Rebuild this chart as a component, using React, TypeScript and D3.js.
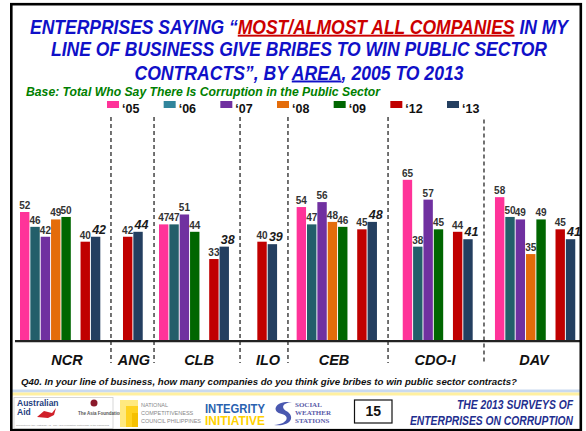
import React from 'react'
import * as d3 from 'd3'

// areas on the x axis
const areas = ['NCR', 'ANG', 'CLB', 'ILO', 'CEB', 'CDO-I', 'DAV']
const years = ['‘05', '‘06', '‘07', '‘08', '‘09', '‘12', '‘13']

// values per survey year, one entry per area (null = not surveyed)
const v05 = [52, null, 47, null, 54, 65, 58]
const v06 = [46, null, 47, null, 47, 38, 50]
const v07 = [42, null, 51, null, 56, 57, 49]
const v08 = [49, null, null, null, 48, null, 35]
const v09 = [50, null, 44, null, 46, 45, 49]
const v12 = [40, 42, 33, 40, 45, 44, 45]
const v13 = [42, 44, 38, 39, 48, 41, 41]
const series = [v05, v06, v07, v08, v09, v12, v13]

const barColors = ['#FF3399', '#235E6A', '#7030A0', '#E46C0A', '#006600', '#C00000', '#243F60']
const legendColors = ['#FF3399', '#31859C', '#7030A0', '#E46C0A', '#006600', '#C00000', '#243F60']

// layout in "slot" units (one slot = one bar pitch)
const groupStart = [0, 9.95, 13.43, 22.93, 26.73, 36.98, 45.89]
const labelCenter = [4.54, 11.01, 17.3, 23.96, 30.34, 40.1, 49.66]
const separators = [8.79, 12.95, 21.26, 25.89, 35.56, 44.83]
const GAP = 0.85 // extra space between '09 and '12

const W = 586
const H = 431

export default function App() {
  const x = d3.scaleLinear().domain([0, 53]).range([20, 20 + 53 * 10.35])
  const y = d3.scaleLinear().domain([0, 70]).range([340.7, 340.7 - 70 * 2.475])
  const barW = 9.4

  const bars: { key: string; s: number; v: number; x0: number }[] = []
  areas.forEach((area, ai) => {
    let slot = groupStart[ai]
    let placedEarly = false
    series.forEach((vals, si) => {
      const v = vals[ai]
      if (v == null) return
      if (si === 5 && placedEarly) slot += GAP
      if (si < 5) placedEarly = true
      bars.push({ key: `${area}-${si}`, s: si, v, x0: x(slot) })
      slot += 1
    })
  })

  const legendX = d3.scaleLinear().domain([0, 6]).range([107, 447])

  const bold = 'bold'
  const arial = 'Liberation Sans, Arial, sans-serif'
  const narrow = 'Liberation Sans Narrow, Liberation Sans, Arial, sans-serif'

  return (
    <svg width={W} height={H} style={{ position: 'absolute', left: 0, top: 0, background: '#fff' }}>
      {/* title */}
      <g fontFamily={arial} fontWeight={bold} fontStyle="italic" fontSize={19.5} fill="#1010C8" textAnchor="middle">
        <text x={299} y={33.7} textLength={538} lengthAdjust="spacingAndGlyphs">
          <tspan>ENTERPRISES SAYING “</tspan>
          <tspan fill="#CC0000" style={{ textDecoration: 'underline' }}>MOST/ALMOST ALL COMPANIES</tspan>
          <tspan> IN MY</tspan>
        </text>
        <text x={299} y={56.2} textLength={496} lengthAdjust="spacingAndGlyphs">
          LINE OF BUSINESS GIVE BRIBES TO WIN PUBLIC SECTOR
        </text>
        <text x={299} y={79.5} textLength={329} lengthAdjust="spacingAndGlyphs">
          <tspan>CONTRACTS”, BY </tspan>
          <tspan style={{ textDecoration: 'underline' }}>AREA</tspan>
          <tspan>, 2005 TO 2013</tspan>
        </text>
      </g>
      <text x={26} y={95.5} fontFamily={narrow} fontWeight={bold} fontStyle="italic" fontSize={12.5}
        fill="#008000" textLength={354} lengthAdjust="spacingAndGlyphs">
        Base: Total Who Say There Is Corruption in the Public Sector
      </text>

      {/* legend */}
      {years.map((yr, i) => (
        <g key={yr}>
          <rect x={legendX(i)} y={101} width={12} height={7} fill={legendColors[i]} />
          <text x={legendX(i) + 15} y={113} fontFamily={arial} fontWeight={bold} fontSize={12.5} fill="#111">
            {yr}
          </text>
        </g>
      ))}

      {/* separators */}
      {separators.map((s, i) => (
        <line key={i} x1={x(s)} x2={x(s)} y1={i === 5 ? 119.5 : 117} y2={363}
          stroke="#444" strokeWidth={1.5} strokeDasharray="4,3" />
      ))}

      {/* bars */}
      {bars.map(b => (
        <rect key={b.key} x={b.x0} y={y(b.v)} width={barW} height={y(0) - y(b.v)} fill={barColors[b.s]} />
      ))}
      {bars.map(b =>
        b.s === 6 ? (
          <text key={b.key + 't'} x={b.x0 + barW / 2 + 3.5} y={y(b.v) - 3} textAnchor="middle"
            fontFamily={arial} fontWeight={bold} fontStyle="italic" fontSize={12.5} fill="#1a1a1a">
            {b.v}
          </text>
        ) : (
          <text key={b.key + 't'} x={b.x0 + barW / 2} y={y(b.v) - 3} textAnchor="middle"
            fontFamily={arial} fontWeight={bold} fontSize={10} fill="#333">
            {b.v}
          </text>
        )
      )}

      {/* baseline */}
      <line x1={15} x2={580} y1={y(0) + 0.5} y2={y(0) + 0.5} stroke="#222" strokeWidth={2.2} />

      {/* area labels */}
      {areas.map((a, i) => (
        <text key={a} x={x(labelCenter[i])} y={365} textAnchor="middle" fontFamily={arial}
          fontWeight={bold} fontStyle="italic" fontSize={14.5} fill="#111">
          {a}
        </text>
      ))}

      <text x={21} y={385} fontFamily={arial} fontWeight={bold} fontStyle="italic" fontSize={9}
        fill="#111" textLength={496} lengthAdjust="spacingAndGlyphs">
        Q40. In your line of business, how many companies do you think give bribes to win public sector contracts?
      </text>

      {/* footer strip */}
      <rect x={12} y={389.5} width={568} height={3} fill="#C9DAF0" />
      <rect x={12} y={392.5} width={568} height={3} fill="#FFF0A0" />

      {/* logos */}
      <rect x={14} y={397.5} width={99} height={31} fill="#fff" stroke="#ccc" strokeWidth={0.8} />
      <text x={17} y={406} fontFamily={arial} fontWeight={bold} fontSize={8.5} fill="#1F3F7F">Australian</text>
      <text x={17} y={415} fontFamily={arial} fontWeight={bold} fontSize={8.5} fill="#1F3F7F">Aid</text>
      <path d="M37,417 L44,411 L52,413 L56,408 L54,415 L48,418 Z" fill="#D0202A" />
      <circle cx={94} cy={403} r={3.5} fill="#8B1A2B" />
      <text x={78} y={415} fontFamily={arial} fontWeight={bold} fontSize={4.5} fill="#555">The Asia Foundation</text>
      <text x={16} y={426} fontFamily={arial} fontSize={2.5} fill="#888">Supported by the Australian Aid · The Asia Foundation Partnership in the Philippines</text>

      <rect x={120} y={400} width={18} height={27} fill="#FFE97F" />
      <rect x={126} y={406} width={12} height={21} fill="#FFD21F" />
      <rect x={132} y={413} width={6} height={14} fill="#F5C000" />
      <text fontFamily={arial} fontSize={5.5} fill="#888">
        <tspan x={141} y={407}>NATIONAL</tspan>
        <tspan x={141} y={415}>COMPETITIVENESS</tspan>
        <tspan x={141} y={423}>COUNCIL PHILIPPINES</tspan>
      </text>

      <text x={205} y={413} fontFamily={arial} fontWeight={bold} fontSize={12} fill="#2A62B0"
        textLength={60} lengthAdjust="spacingAndGlyphs">INTEGRITY</text>
      <text x={205} y={425} fontFamily={arial} fontWeight={bold} fontSize={12} fill="#FFD200"
        textLength={60} lengthAdjust="spacingAndGlyphs">INITIATIVE</text>

      <path d="M286,402 C274,403 272,412 282,414 C290,416 288,424 274,425 C288,427 296,419 288,412 C280,408 282,403 292,402 Z"
        fill="#4A58B0" />
      <text fontFamily="Liberation Serif, serif" fontWeight={bold} fontSize={7} fill="#5A5AA8">
        <tspan x={295} y={407}>SOCIAL</tspan>
        <tspan x={295} y={415}>WEATHER</tspan>
        <tspan x={295} y={423}>STATIONS</tspan>
      </text>

      <rect x={354.5} y={400} width={37.5} height={23} fill="#fff" stroke="#111" strokeWidth={1.2} />
      <text x={373.25} y={416} textAnchor="middle" fontFamily={narrow} fontWeight={bold} fontSize={14} fill="#111">
        15
      </text>

      <g fontFamily={narrow} fontWeight={bold} fontStyle="italic" fontSize={12.5} fill="#1F2F8F" textAnchor="end">
        <text x={573} y={409} textLength={116} lengthAdjust="spacingAndGlyphs">THE 2013 SURVEYS OF</text>
        <text x={573} y={425} textLength={163} lengthAdjust="spacingAndGlyphs">ENTERPRISES ON CORRUPTION</text>
      </g>

      {/* frame */}
      <rect x={11.3} y={4.2} width={569.5} height={426} fill="none" stroke="#000" strokeWidth={2.6} />
    </svg>
  )
}
